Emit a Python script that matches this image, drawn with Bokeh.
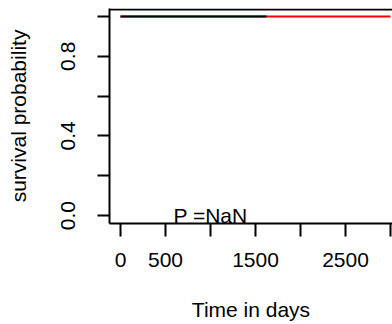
from bokeh.plotting import figure
from bokeh.models import FixedTicker, Span, Range1d
from bokeh.core.properties import value
from bokeh.embed import file_html
from bokeh.resources import INLINE

# data
time_red = [0, 3000]
surv_red = [1.0, 1.0]
time_black = [0, 1622]
surv_black = [1.0, 1.0]
x_ticks = [0, 500, 1000, 1500, 2000, 2500, 3000]
x_labels = {0: "0", 500: "500", 1000: "", 1500: "1500", 2000: "", 2500: "2500", 3000: ""}
y_ticks = [0.0, 0.2, 0.4, 0.6, 0.8, 1.0]
y_labels = {0.0: "0.0", 0.2: "", 0.4: "0.4", 0.6: "", 0.8: "0.8", 1.0: ""}
p_text = "P =NaN"
p_text_x = [1000]
p_text_y = [0.0]
x_title = "Time in days"
y_title = "survival probability"

FONT = "Liberation Sans"
FS = "21px"

p = figure(width=392, height=324, output_backend="svg", toolbar_location=None, title=None,
           x_range=Range1d(-122, 3022), y_range=Range1d(-0.04, 1.04),
           min_border_left=109, min_border_right=0, min_border_top=8, min_border_bottom=101)
p.outline_line_color = None
p.grid.visible = False
p.background_fill_color = "white"
p.border_fill_color = "white"

p.line(time_red, surv_red, line_color="red", line_width=2)
p.line(time_black, surv_black, line_color="black", line_width=2)
p.text(x=p_text_x, y=p_text_y, text=[p_text], text_align="center", text_baseline="middle",
       text_font=value(FONT), text_font_size=FS, text_color="black")

# top border of the box
p.add_layout(Span(location=1.035, dimension="width", line_color="black", line_width=2))

for ax in (p.xaxis[0], p.yaxis[0]):
    ax.axis_line_color = "black"
    ax.axis_line_width = 2
    ax.major_tick_line_color = "black"
    ax.major_tick_line_width = 2
    ax.major_tick_in = 0
    ax.minor_tick_line_color = None
    ax.major_label_text_font = FONT
    ax.major_label_text_font_size = FS
    ax.major_label_text_color = "black"
    ax.axis_label_text_font = FONT
    ax.axis_label_text_font_size = FS
    ax.axis_label_text_font_style = "normal"
    ax.axis_label_text_color = "black"

p.xaxis[0].ticker = FixedTicker(ticks=x_ticks)
p.xaxis[0].major_label_overrides = x_labels
p.xaxis[0].axis_label = x_title
p.xaxis[0].major_tick_out = 13
p.xaxis[0].major_label_standoff = 16
p.xaxis[0].axis_label_standoff = 28

p.yaxis[0].ticker = FixedTicker(ticks=y_ticks)
p.yaxis[0].major_label_overrides = y_labels
p.yaxis[0].major_label_orientation = "vertical"
p.yaxis[0].axis_label = y_title
p.yaxis[0].major_tick_out = 12
p.yaxis[0].major_label_standoff = 22
p.yaxis[0].axis_label_standoff = 29

open("out.html", "w").write(file_html(p, INLINE))
